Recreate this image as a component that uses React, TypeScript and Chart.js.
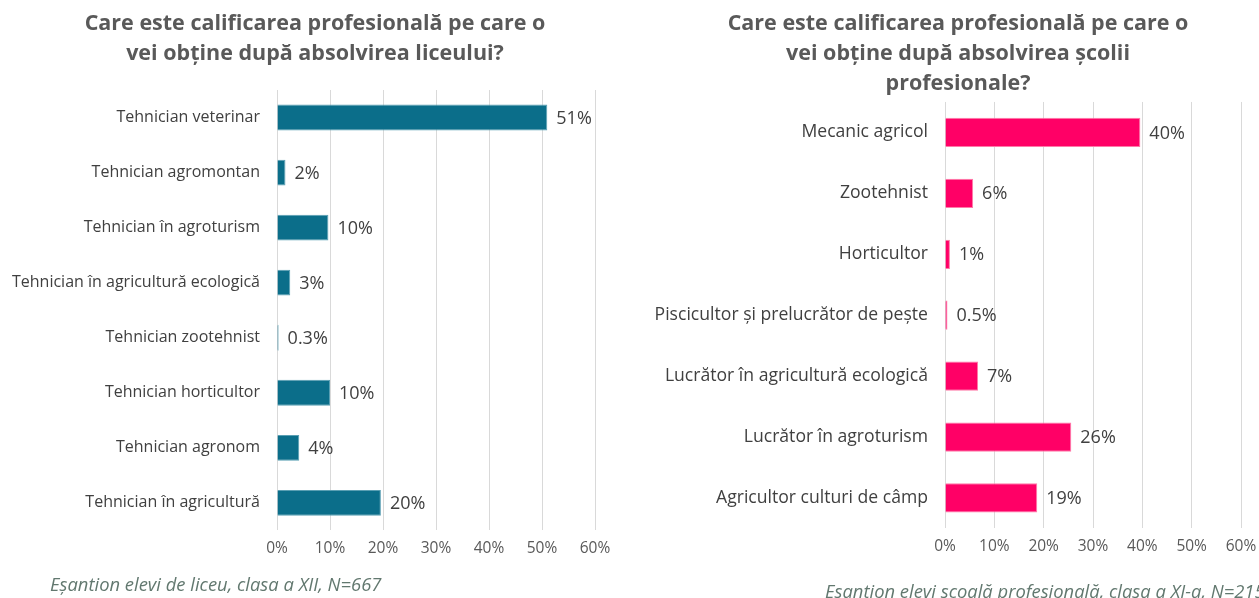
import React, { useEffect, useRef } from "react";
import { Chart, registerables } from "chart.js";

Chart.register(...registerables);

const leftTitle = ["Care este calificarea profesională pe care o", "vei obține după absolvirea liceului?"];
const leftCategories = [
  "Tehnician veterinar",
  "Tehnician agromontan",
  "Tehnician în agroturism",
  "Tehnician în agricultură ecologică",
  "Tehnician zootehnist",
  "Tehnician horticultor",
  "Tehnician agronom",
  "Tehnician în agricultură",
];
const leftValues = [51, 1.6, 9.7, 2.5, 0.3, 10, 4.2, 19.6];
const leftNote = "Eșantion elevi de liceu, clasa a XII, N=667";

const rightTitle = ["Care este calificarea profesională pe care o", "vei obține după absolvirea școlii", "profesionale?"];
const rightCategories = [
  "Mecanic agricol",
  "Zootehnist",
  "Horticultor",
  "Piscicultor și prelucrător de pește",
  "Lucrător în agricultură ecologică",
  "Lucrător în agroturism",
  "Agricultor culturi de câmp",
];
const rightValues = [39.6, 5.7, 1, 0.5, 6.7, 25.6, 18.7];
const rightNote = "Eșantion elevi școală profesională, clasa a XI-a, N=215";

const axisTicks = [0, 10, 20, 30, 40, 50, 60];

const FONT = "'Open Sans', 'DejaVu Sans', sans-serif";

function fmt(v: number): string {
  return v < 1 ? v.toFixed(1) + "%" : Math.round(v) + "%";
}

const valueLabels = {
  id: "valueLabels",
  afterDatasetsDraw(chart: any) {
    const ctx = chart.ctx;
    const meta = chart.getDatasetMeta(0);
    const data = chart.data.datasets[0].data as number[];
    ctx.save();
    ctx.font = `18px ${FONT}`;
    ctx.fillStyle = "#404040";
    ctx.textAlign = "left";
    ctx.textBaseline = "middle";
    meta.data.forEach((bar: any, i: number) => {
      ctx.fillText(fmt(data[i]), bar.x + 9, bar.y + 1);
    });
    ctx.restore();
  },
};

function BarChart(props: {
  title: string[];
  categories: string[];
  values: number[];
  color: string;
  border: string;
  yWidth: number;
  padRight: number;
  padBottom: number;
  titleBottom: number;
  labelSize: number;
  barPct: number;
  width: number;
}) {
  const ref = useRef<HTMLCanvasElement>(null);
  useEffect(() => {
    if (!ref.current) return;
    const chart = new Chart(ref.current, {
      type: "bar",
      data: {
        labels: props.categories,
        datasets: [
          {
            data: props.values,
            backgroundColor: props.color,
            borderColor: props.border,
            borderWidth: 1,
            categoryPercentage: 1,
            barPercentage: props.barPct,
          },
        ],
      },
      options: {
        indexAxis: "y",
        animation: false,
        responsive: false,
        maintainAspectRatio: false,
        layout: { padding: { top: 0, right: 0, bottom: props.padBottom, left: 0 } },
        plugins: {
          legend: { display: false },
          tooltip: { enabled: false },
          title: {
            display: true,
            text: props.title,
            color: "#595959",
            font: { family: FONT, size: 21.5, weight: "bold", lineHeight: 1.395 },
            padding: { top: 9, bottom: props.titleBottom },
          },
        },
        scales: {
          x: {
            min: 0,
            max: 60,
            afterBuildTicks(scale: any) {
              scale.ticks = axisTicks.map((v) => ({ value: v }));
            },
            afterFit(scale: any) {
              scale.paddingRight = props.padRight;
            },
            ticks: {
              callback: (v: any) => v + "%",
              color: "#595959",
              font: { family: FONT, size: 15.5 },
              padding: 9,
              maxRotation: 0,
            },
            grid: { color: "#d9d9d9", lineWidth: 1, drawTicks: false },
            border: { display: false },
          },
          y: {
            afterFit(scale: any) {
              scale.width = props.yWidth;
            },
            ticks: {
              color: "#404040",
              font: { family: FONT, size: props.labelSize },
              padding: 17,
            },
            grid: { display: false, drawTicks: false },
            border: { display: false },
          },
        },
      },
      plugins: [valueLabels],
    });
    return () => chart.destroy();
  }, []);
  return <canvas ref={ref} width={props.width} height={598} style={{ display: "block" }} />;
}

export default function App() {
  useEffect(() => {
    document.body.style.margin = "0";
  }, []);
  const noteStyle: React.CSSProperties = {
    position: "absolute",
    fontFamily: FONT,
    fontStyle: "italic",
    fontSize: 18.4,
    color: "#62786f",
    whiteSpace: "nowrap",
  };
  return (
    <div style={{ position: "relative", width: 1259, height: 598, overflow: "hidden", background: "#fff" }}>
      <div style={{ position: "absolute", left: 0, top: 0 }}>
        <BarChart
          title={leftTitle}
          categories={leftCategories}
          values={leftValues}
          color="#0b6e8a"
          border="#5a9fb3"
          yWidth={277}
          padRight={35}
          padBottom={31}
          titleBottom={21}
          labelSize={16}
          barPct={0.47}
          width={630}
        />
      </div>
      <div style={{ position: "absolute", left: 640, top: 0 }}>
        <BarChart
          title={rightTitle}
          categories={rightCategories}
          values={rightValues}
          color="#ff0066"
          border="#ff7aa8"
          yWidth={305}
          padRight={35}
          padBottom={33}
          titleBottom={3}
          labelSize={17.6}
          barPct={0.48}
          width={636}
        />
      </div>
      <div style={{ ...noteStyle, left: 50, top: 571 }}>{leftNote}</div>
      <div style={{ ...noteStyle, left: 825, top: 578 }}>{rightNote}</div>
    </div>
  );
}
